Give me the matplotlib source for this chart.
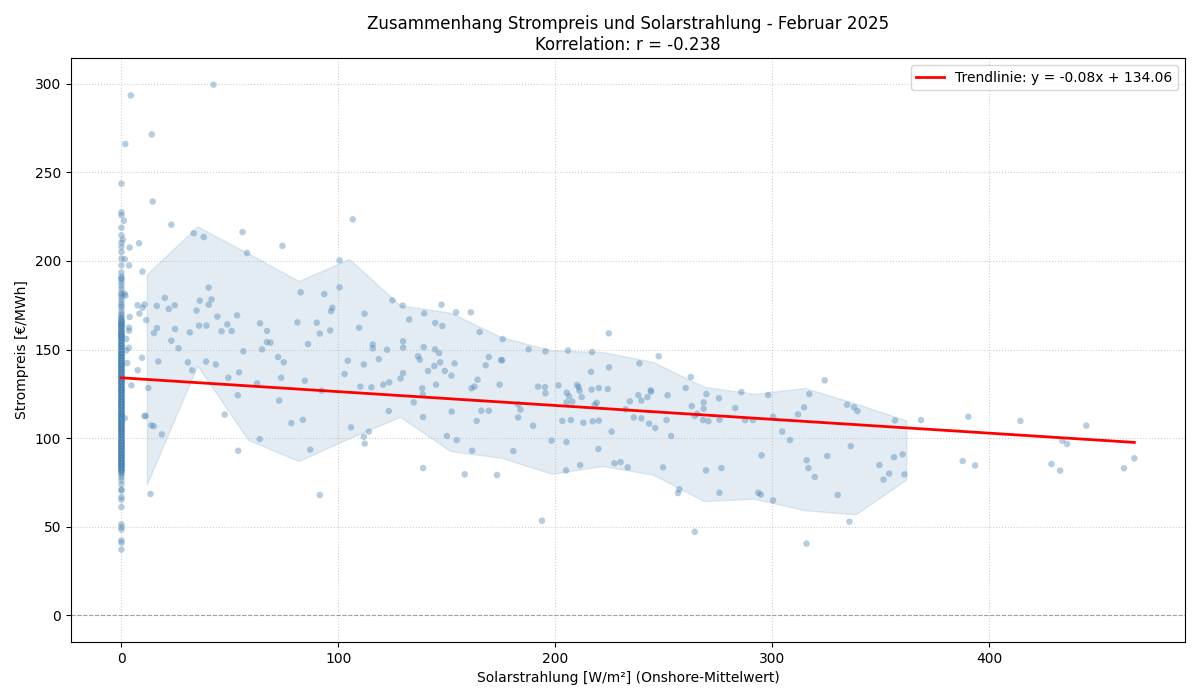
import numpy as np
import matplotlib.pyplot as plt

# Strompreis in Stunden ohne Solarstrahlung (x = 0)
night_price = [243.6, 227.4, 225.8, 218.8, 214.5, 210.3, 207.9, 205.0, 201.3, 197.5, 193.5, 191.2,
               190.1, 189.5, 187.8, 186.0, 184.2, 182.0, 181.0, 179.8, 178.1, 176.5, 175.0, 174.1,
               172.2, 170.5, 169.5, 168.3, 167.0, 166.1, 165.2, 164.0, 163.5, 163.1, 162.4, 161.5,
               160.3, 159.6, 158.4, 158.0, 157.5, 156.2, 155.4, 154.6, 153.3, 152.5, 152.0, 151.7,
               150.4, 149.6, 148.8, 147.5, 147.0, 146.7, 145.9, 145.0, 144.6, 144.2, 143.4, 142.6,
               141.8, 141.0, 140.1, 139.8, 139.3, 138.5, 137.7, 136.9, 136.0, 135.2, 134.9, 134.4,
               133.6, 132.7, 131.9, 131.1, 130.7, 130.3, 129.5, 128.6, 127.8, 127.4, 127.0, 126.2,
               125.4, 124.6, 124.1, 123.7, 122.9, 122.1, 121.3, 120.5, 119.6, 119.2, 118.8, 118.0,
               117.2, 116.4, 115.5, 115.1, 114.7, 113.9, 113.1, 112.3, 111.8, 111.4, 110.6, 109.8,
               109.0, 108.6, 108.2, 107.3, 106.5, 105.7, 104.9, 104.5, 104.1, 103.2, 102.4, 101.6,
               100.8, 100.0, 99.1, 98.7, 98.3, 97.5, 96.7, 95.9, 95.0, 94.2, 93.8, 93.4, 92.6, 91.8,
               90.9, 90.1, 89.3, 88.9, 88.5, 87.7, 86.8, 86.0, 85.2, 84.8, 84.4, 83.6, 82.7, 81.9,
               81.1, 80.3, 79.4, 78.0, 76.2, 73.9, 70.9, 70.5, 66.8, 65.3, 61.1, 51.4, 49.8, 48.4,
               42.3, 41.0, 37.1,
               # weitere Nachtstunden (dichter Bereich)
               167.6, 165.8, 164.4, 162.9, 161.1, 159.2, 157.9, 156.7, 155.0, 153.8, 152.9, 151.2,
               150.0, 148.3, 147.3, 146.2, 145.4, 144.0, 143.1, 142.2, 141.4, 140.5, 139.0, 138.1,
               137.3, 136.5, 135.6, 134.1, 133.2, 132.3, 131.5, 130.0, 129.1, 128.2, 126.6, 125.8,
               125.0, 123.3, 122.5, 121.7, 120.9, 120.1, 118.4, 117.6, 116.8, 116.0, 114.3, 113.5,
               112.7, 111.1, 110.2, 109.4, 107.8, 106.9, 106.1, 105.3, 103.6, 102.8, 102.0, 101.2,
               100.4, 99.6, 97.9, 97.1, 96.3, 95.4, 94.6, 93.1, 92.2, 91.4, 90.5, 89.7, 88.1, 87.3,
               86.4, 85.6, 84.0, 83.2, 82.3, 81.5, 164.7, 160.8, 156.9, 149.1, 141.6, 133.9, 126.9,
               119.9, 112.9, 105.0, 98.0, 91.1, 85.8, 158.8, 132.1, 108.9, 95.2]

# Stunden mit Solarstrahlung
day_solar = [4.3, 42.4, 14.0, 1.8, 14.4, 23.0, 33.3, 37.9, 55.8, 57.9, 74.2, 106.6, 1.1, 0.6, 3.8, 8.1,
             1.5, 3.5, 9.7, 1.4, 1.8, 7.4, 8.3, 9.8, 10.6, 3.8, 11.4, 3.5, 3.5, 16.3, 20.0, 21.8, 24.6,
             16.4, 15.0, 24.7, 23.0, 26.3, 17.0, 9.5, 7.5, 2.6, 2.2, 3.4, 2.2, 31.5, 34.6, 36.1, 40.2,
             41.5, 40.2, 35.8, 39.2, 44.2, 46.1, 48.8, 50.8, 53.3, 30.6, 39.0, 43.5, 32.6, 56.2, 63.9,
             67.1, 67.0, 68.7, 64.8, 72.2, 74.8, 81.1, 82.6, 86.0, 90.0, 91.4, 93.5, 96.2, 96.6, 97.2,
             100.5, 100.5, 104.3, 109.5, 111.7, 112.0,
             4.6, 12.4, 1.5, 10.6, 11.2, 13.8, 14.9, 18.6, 13.4, 49.3, 54.2, 53.6, 47.6, 53.8, 62.5,
             63.7, 73.6, 72.7, 78.3, 83.6, 84.5, 92.2, 87.0, 91.4, 102.8, 105.8, 110.1, 111.7, 112.1,
             124.9, 129.6, 147.5, 154.2, 161.0, 132.6, 139.5, 144.6, 147.9, 165.1, 175.7, 224.6, 115.8,
             115.8, 122.4, 129.8, 129.8, 139.3, 144.5, 146.4, 118.6, 136.7, 137.5, 144.2, 146.9, 141.3,
             149.0, 153.5, 152.1, 129.8, 128.6, 169.3, 167.9, 175.0, 175.4, 164.1, 187.6, 195.4, 205.8,
             216.9, 216.4, 224.7, 238.7, 115.2, 120.7, 123.4, 138.6, 145.0, 161.3, 162.7, 174.3, 192.0,
             195.2, 201.4, 210.0, 210.7, 220.0, 224.1, 216.7, 243.9,
             134.7, 123.2, 138.9, 139.0, 152.2, 165.9, 169.3, 163.7, 182.8, 183.9, 182.8, 189.7, 195.4,
             205.2, 206.3, 207.8, 205.1, 211.1, 212.1, 219.0, 218.1, 203.2, 207.1, 212.9, 217.2, 220.0,
             198.2, 205.1, 219.8, 225.9, 232.4, 234.3, 238.2, 239.6, 242.4, 244.1, 236.1, 239.6, 243.2,
             246.0, 114.0, 139.0, 150.0, 154.5, 161.6, 158.2, 173.1, 180.6, 193.8, 204.9, 211.4, 227.2,
             230.0, 233.3,
             247.6, 251.7, 253.3, 249.6, 256.5, 257.1, 251.2,
             262.4, 260.0, 269.6, 268.3, 268.3, 262.8, 265.3, 264.2, 268.0, 270.5, 275.4, 275.6, 282.9,
             285.7, 287.4, 291.0, 298.0, 300.3, 304.5, 308.1, 311.8, 314.6, 317.0, 324.1, 334.4, 337.6,
             339.2, 356.5, 368.5, 295.0, 315.8, 316.6, 319.5, 325.3, 336.1, 349.3, 353.8, 351.2, 356.0,
             360.0, 360.8, 269.4, 276.5, 264.2, 275.6, 293.5, 294.6, 300.3, 315.7, 330.1, 335.5,
             390.3, 387.7, 393.4, 414.3, 428.6, 432.6, 433.6, 435.8, 444.7, 462.0, 466.8]
day_price = [293.4, 299.5, 271.4, 266.0, 233.5, 220.5, 215.6, 213.5, 216.3, 204.5, 208.5, 223.5, 222.7,
             212.0, 207.5, 210.0, 201.0, 197.5, 194.0, 181.5, 180.4, 175.0, 170.3, 173.6, 175.5, 168.4,
             166.6, 162.4, 160.6, 174.6, 179.2, 172.9, 175.0, 162.1, 159.3, 161.6, 155.0, 150.7, 143.3,
             145.4, 138.3, 142.4, 149.5, 151.0, 156.0, 159.7, 172.0, 177.6, 185.0, 178.3, 175.3, 163.5,
             163.5, 168.6, 160.3, 164.2, 160.5, 169.3, 142.8, 143.2, 141.6, 138.3, 149.0, 164.8, 160.5,
             154.2, 153.9, 150.1, 145.8, 142.8, 165.3, 182.3, 153.1, 165.2, 159.0, 181.3, 160.8, 171.7,
             173.6, 200.3, 185.1, 143.7, 162.3, 141.6, 170.2,
             129.8, 128.3, 111.3, 112.5, 112.5, 107.2, 106.8, 102.1, 68.5, 134.1, 137.1, 124.2, 113.3,
             92.9, 130.9, 99.5, 134.1, 121.2, 108.5, 110.4, 132.4, 126.8, 93.5, 67.9, 136.2, 106.1,
             129.1, 100.8, 96.9,
             177.8, 174.8, 175.3, 171.0, 171.0, 167.0, 170.4, 165.0, 163.3, 159.9, 155.9, 159.1, 152.9,
             150.7, 149.9, 154.6, 151.1, 151.4, 150.1, 148.0, 144.6, 146.2, 144.3, 140.7, 142.8, 137.9,
             137.9, 142.2, 135.3, 136.7, 133.7, 145.8, 141.1, 144.1, 143.9, 133.0, 150.1, 149.0, 149.5,
             148.6, 137.5, 140.0, 142.2, 128.7, 130.2, 131.5, 128.1, 130.2, 128.1, 129.1, 130.2, 129.1,
             128.8, 129.8, 130.0, 128.8, 128.3, 127.7, 127.4, 127.0,
             120.2, 115.3, 124.7, 111.9, 115.0, 115.5, 115.5, 109.7, 119.1, 116.1, 111.7, 107.0, 125.3,
             125.7, 123.6, 120.6, 120.2, 126.8, 123.2, 120.0, 118.8, 109.7, 110.2, 108.7, 109.5, 109.9,
             98.6, 97.8, 93.9, 103.7, 116.3, 120.8, 124.3, 121.2, 123.2, 126.2, 111.7, 111.2, 108.2,
             105.7, 103.7, 83.1, 101.2, 98.9, 92.9, 79.6, 79.2, 92.7, 53.4, 81.8, 84.8, 85.8,
             86.5, 83.5,
             146.2, 124.2, 101.2, 83.5, 69.0, 71.1, 110.2,
             134.5, 128.3, 124.9, 120.2, 116.6, 118.1, 113.8, 112.5, 110.2, 109.5, 122.5, 110.4, 117.0,
             126.0, 110.2, 110.2, 124.3, 112.1, 103.7, 98.9, 113.4, 117.4, 124.9, 132.6, 118.9, 117.4,
             115.3, 110.0, 110.2, 90.3, 87.5, 83.1, 78.1, 89.9, 95.5, 84.8, 80.0, 76.6, 89.3,
             90.9, 79.6, 81.8, 83.1, 47.2, 69.2, 69.2, 68.1, 64.9, 40.5, 67.9, 52.9,
             112.1, 87.1, 84.6, 109.7, 85.4, 81.7, 98.6, 96.7, 107.1, 83.0, 88.6]

# Band (Mittelwert +/- Std je Strahlungsklasse)
band_x = [11.7, 35.0, 58.4, 81.7, 105.0, 128.4, 151.7, 175.0, 198.4, 221.7, 245.0, 268.4, 291.7, 315.0, 338.4, 361.7]
band_hi = [192.5, 219.5, 204.3, 188.7, 201.1, 175.0, 170.8, 157.0, 149.5, 148.6, 143.0, 129.0, 125.0, 128.3, 119.5, 110.0]
band_lo = [73.9, 141.0, 99.0, 87.1, 100.0, 112.0, 92.7, 88.9, 79.9, 84.3, 79.4, 64.5, 65.8, 59.3, 57.0, 76.7]

# Trendlinie
slope = -0.0781
intercept = 134.06
r = -0.238

solar = np.array([0.0] * len(night_price) + day_solar)
price = np.array(night_price + day_price)

fig, ax = plt.subplots(figsize=(12, 7), dpi=100)
ax.scatter(solar, price, s=22, color='steelblue', alpha=0.4, edgecolors='none')
ax.fill_between(band_x, band_lo, band_hi, color='steelblue', alpha=0.15)

xs = np.array([0, solar.max()])
ax.plot(xs, slope * xs + intercept, color='red', linewidth=2,
        label=f"Trendlinie: y = {slope:.2f}x + {intercept:.2f}")
ax.axhline(0, color='gray', linestyle='--', linewidth=0.8, alpha=0.7)

ax.set_title(f"Zusammenhang Strompreis und Solarstrahlung - Februar 2025\nKorrelation: r = {r:.3f}", fontsize=12)
ax.set_xlabel("Solarstrahlung [W/m²] (Onshore-Mittelwert)")
ax.set_ylabel("Strompreis [€/MWh]")
ax.grid(True, linestyle=':', alpha=0.6)
ax.legend(loc='upper right')

plt.subplots_adjust(left=0.059, right=0.9875, top=0.917, bottom=0.083)
plt.savefig("out.png", dpi=100)
